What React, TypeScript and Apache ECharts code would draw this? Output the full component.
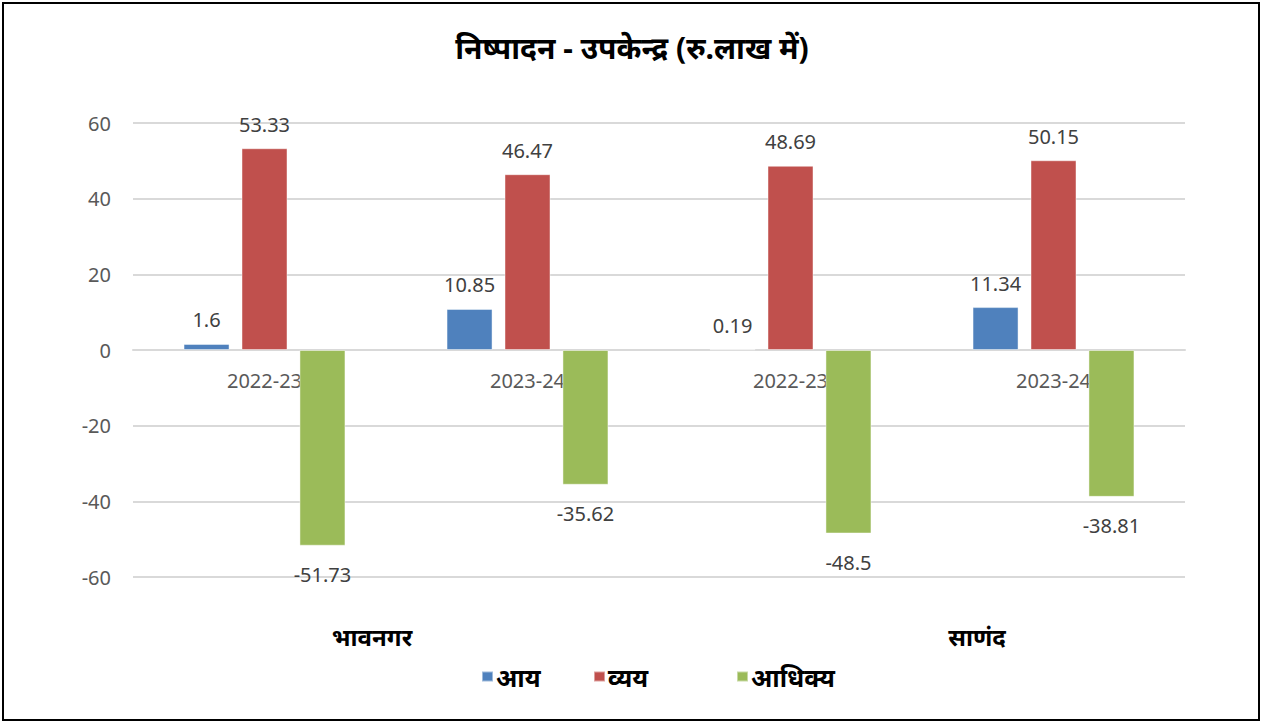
import React, { useEffect, useRef } from "react";
import * as echarts from "echarts";

const years = ["2022-23", "2023-24", "2022-23", "2023-24"];
const centres = ["भावनगर", "साणंद"];
const seriesNames = ["आय", "व्यय", "आधिक्य"];
const income = [1.6, 10.85, 0.19, 11.34];
const expense = [53.33, 46.47, 48.69, 50.15];
const surplus = [-51.73, -35.62, -48.5, -38.81];
const colors = ["#4F81BD", "#C0504D", "#9BBB59"];
const yTicks = { min: -60, max: 60, interval: 20 };
const titleText = "निष्पादन - उपकेन्द्र (रु.लाख में)";

const FONT = "'Noto Sans', 'Open Sans', sans-serif";
const legendLefts = [476, 588, 731];

export default function App() {
  const ref = useRef<HTMLDivElement>(null);
  useEffect(() => {
    if (!ref.current) return;
    const chart = echarts.init(ref.current, undefined, { renderer: "svg" });
    const toData = (arr: number[]) =>
      arr.map((v) => ({
        value: v,
        label: v < 0 ? { position: "bottom", distance: 19 } : { position: "top", distance: 14 },
      }));
    const all = [income, expense, surplus];
    const gridTop = 123;
    const gridBottom = 148;
    const plotH = 725 - gridTop - gridBottom;
    const zeroOffset = -plotH * (0 - yTicks.min) / (yTicks.max - yTicks.min);
    chart.setOption({
      animation: false,
      backgroundColor: "#ffffff",
      textStyle: { fontFamily: FONT },
      title: {
        text: titleText,
        left: "center",
        top: 27,
        textStyle: { fontSize: 30, fontWeight: "bold", color: "#000", fontFamily: FONT },
      },
      graphic: [
        {
          type: "rect",
          shape: { x: 3, y: 3, width: 1256, height: 717 },
          style: { fill: "none", stroke: "#000", lineWidth: 2 },
          silent: true,
        },
      ],
      legend: seriesNames.map((n, i) => ({
        data: [n],
        bottom: 31,
        left: legendLefts[i],
        itemWidth: 11,
        itemHeight: 10,
        itemGap: 0,
        icon: "rect",
        textStyle: { fontSize: 25, fontWeight: "bold", color: "#000", fontFamily: FONT, padding: [0, 0, 0, -2] },
      })),
      grid: { left: 133, right: 79, top: gridTop, bottom: gridBottom },
      xAxis: [
        {
          type: "category",
          data: years,
          position: "bottom",
          offset: zeroOffset,
          axisLine: { onZero: false, lineStyle: { color: "#d9d9d9", width: 2 } },
          axisTick: { show: false },
          axisLabel: { color: "#595959", fontSize: 20, margin: 20, fontFamily: FONT },
        },
        {
          type: "category",
          data: centres,
          position: "bottom",
          axisLine: { show: false, onZero: false },
          axisTick: { show: false },
          splitLine: { show: false },
          axisLabel: {
            margin: 47,
            formatter: (v: string, i: number) => (i === 0 ? `{a|${v}}` : `{b|${v}}`),
            rich: {
              a: { fontSize: 24, fontWeight: "bold", color: "#000", padding: [0, 48, 0, 0], fontFamily: FONT },
              b: { fontSize: 24, fontWeight: "bold", color: "#000", padding: [0, 0, 0, 110], fontFamily: FONT },
            },
          },
        },
      ],
      yAxis: {
        type: "value",
        min: yTicks.min,
        max: yTicks.max,
        interval: yTicks.interval,
        axisLine: { show: false },
        axisTick: { show: false },
        splitLine: { lineStyle: { color: "#d9d9d9", width: 2 } },
        axisLabel: { color: "#595959", fontSize: 20, margin: 22, fontFamily: FONT },
      },
      series: seriesNames.map((name, i) => ({
        name,
        type: "bar",
        xAxisIndex: 0,
        data: toData(all[i]),
        barWidth: 46,
        barGap: "26%",
        itemStyle: { color: colors[i], borderColor: "rgba(255,255,255,0.45)", borderWidth: 1 },
        label: {
          show: true,
          color: "#404040",
          fontSize: 20,
          fontFamily: FONT,
        },
      })),
    });
    return () => chart.dispose();
  }, []);
  return (
    <div style={{ position: "fixed", left: 0, top: 0, width: 1264, height: 725, background: "#fff" }}>
      <div ref={ref} style={{ width: 1264, height: 725 }} />
    </div>
  );
}
